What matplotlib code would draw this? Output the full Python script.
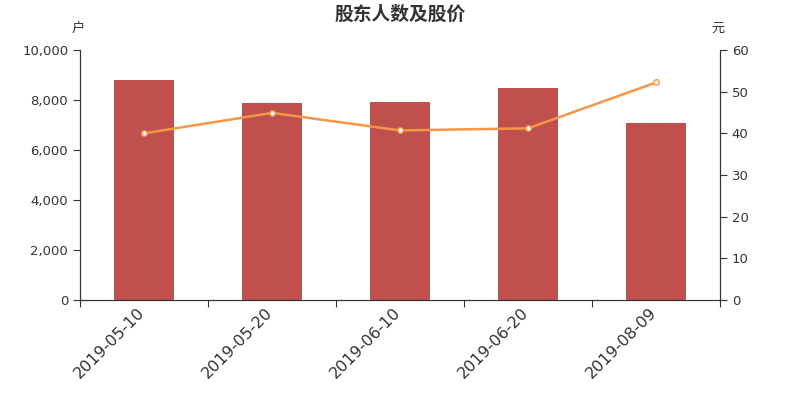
import matplotlib
matplotlib.use('Agg')
import matplotlib.pyplot as plt
import matplotlib.transforms as mtransforms
import numpy as np

plt.rcParams['font.family'] = ['DejaVu Sans', 'Noto Sans CJK SC']

dates = ['2019-05-10', '2019-05-20', '2019-06-10', '2019-06-20', '2019-08-09']
holders = [8790, 7870, 7930, 8470, 7100]
prices = [40.0, 44.9, 40.7, 41.2, 52.2]

text_color = '#333333'
x = np.arange(len(dates))

fig = plt.figure(figsize=(8, 4), dpi=100)
ax = fig.add_axes([0.1, 0.25, 0.8, 0.625])
ax.bar(x, holders, width=0.47, color='#c0504d', zorder=2)
ax.set_xlim(-0.5, len(dates) - 0.5)
ax.set_ylim(0, 10000)
ax.set_yticks(range(0, 10001, 2000))
ax.set_yticklabels([f'{v:,}' for v in range(0, 10001, 2000)], fontsize=9.5, color=text_color)

# ticks sit between categories, labels drawn under the bars
ax.set_xticks(np.arange(-0.5, len(dates), 1))
ax.set_xticklabels([])
ax.tick_params(axis='x', length=5, color=text_color)
ax.tick_params(axis='y', length=5, color=text_color)
lbl_trans = mtransforms.blended_transform_factory(ax.transData, ax.transAxes) + \
    mtransforms.ScaledTranslation(-0.07, -0.05, fig.dpi_scale_trans)
for xi, d in zip(x, dates):
    ax.text(xi, 0, d, transform=lbl_trans, rotation=45, ha='right', va='top',
            rotation_mode='anchor', fontsize=11.5, color=text_color)
ax.spines['top'].set_visible(False)
for s in ['left', 'bottom', 'right']:
    ax.spines[s].set_color(text_color)

ax2 = ax.twinx()
ax2.plot(x, prices, color='#f79646', linewidth=1.8, marker='o', markersize=4,
         markerfacecolor='white', markeredgecolor='#f79646', markeredgewidth=1, zorder=3)
ax2.set_ylim(0, 60)
ax2.set_yticks(range(0, 61, 10))
ax2.tick_params(axis='y', length=5, color=text_color, labelsize=9.5, labelcolor=text_color)
ax2.spines['top'].set_visible(False)
for s in ['left', 'bottom', 'right']:
    ax2.spines[s].set_color(text_color)

fig.text(0.5, 0.965, '股东人数及股价', ha='center', va='center', fontsize=13.5,
         fontweight='bold', color=text_color)
fig.text(0.098, 0.93, '户', ha='center', va='center', fontsize=9.5, color=text_color)
fig.text(0.898, 0.93, '元', ha='center', va='center', fontsize=9.5, color=text_color)

fig.savefig('out.png', dpi=100)
